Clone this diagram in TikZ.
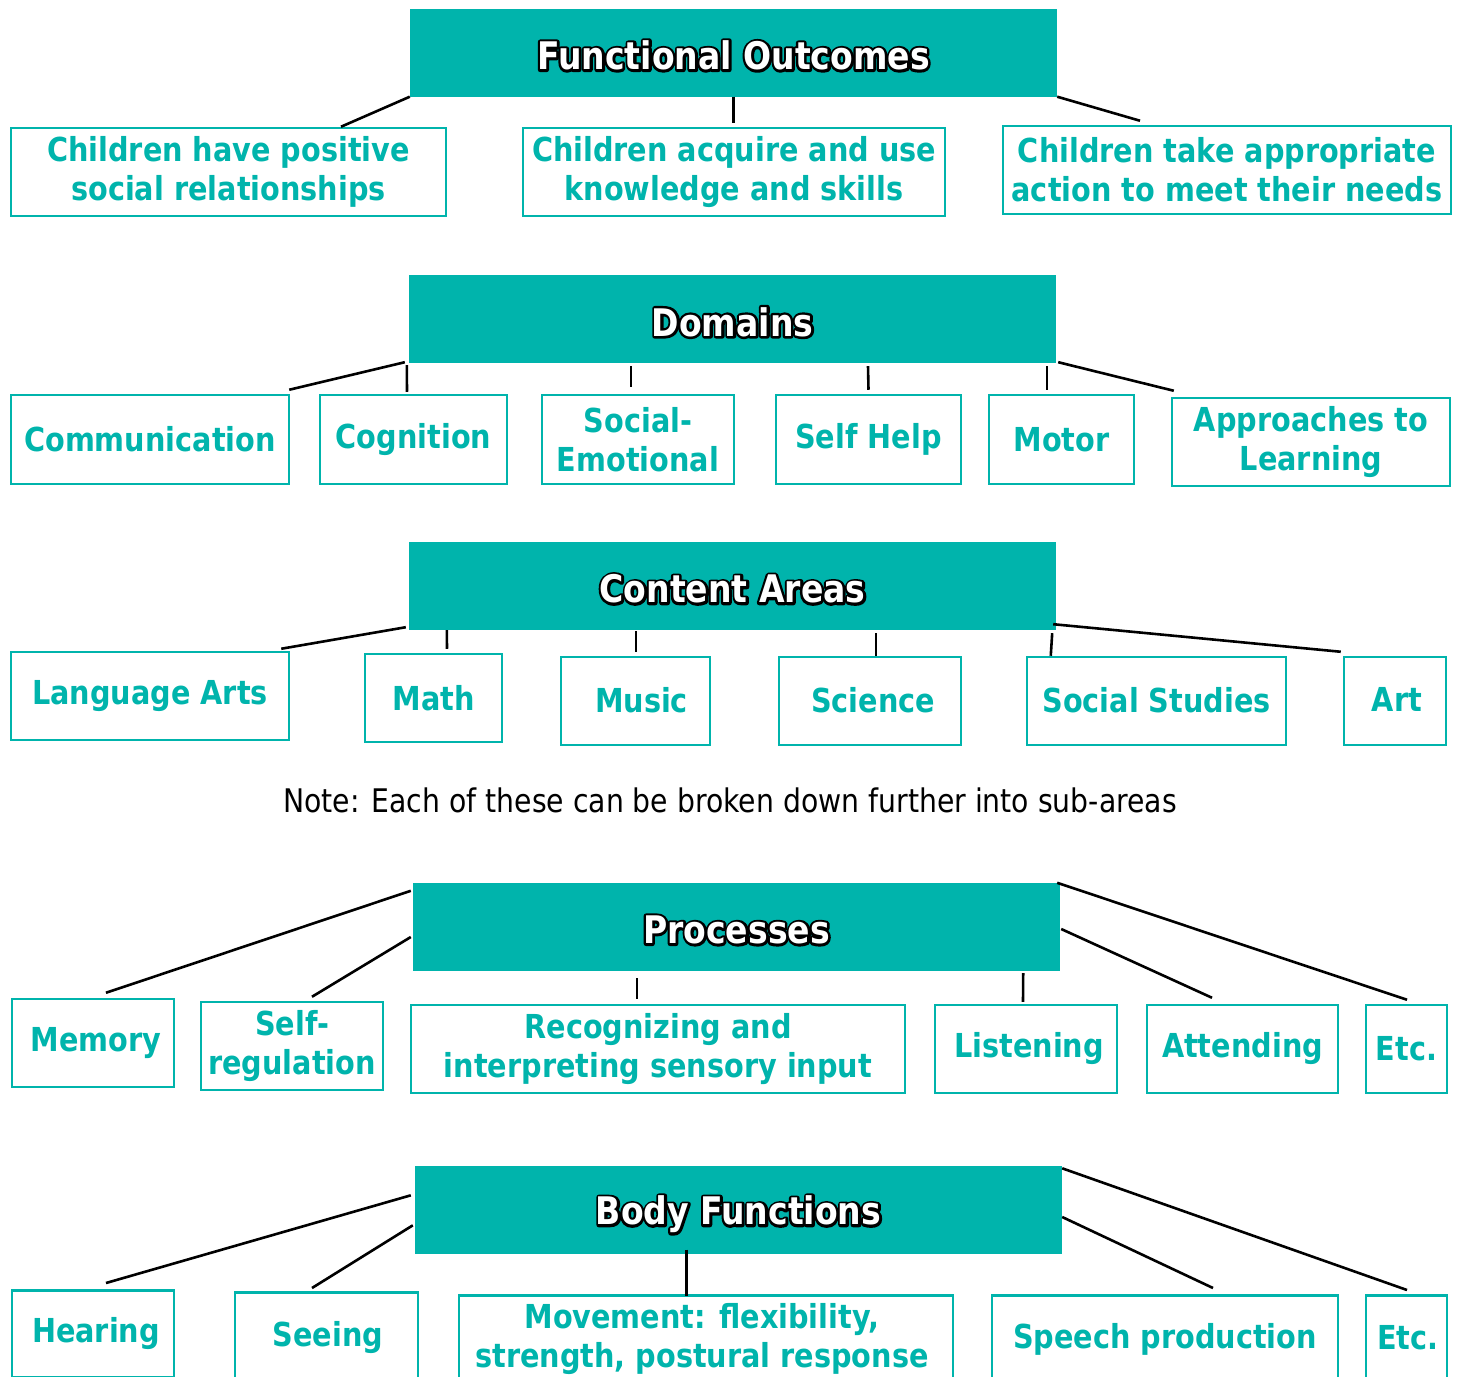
\documentclass[tikz,border=0pt]{standalone}
\usepackage{fontspec}
\setmainfont{DejaVu Sans}[FakeStretch=0.87]
\usetikzlibrary{calc}
\definecolor{tealc}{RGB}{0,180,172}
\newcommand\strokeonly[1]{\special{pdf:literal direct 0 0 0 RG 5 w 1 j 1 Tr}#1\special{pdf:literal direct 0 Tr}}
\newcommand\hdrtext[3]{%
  \node[hfont,text=black] (#1-o) at ($(#1.center)+(0,#3)$) {\strokeonly{#2}};
  \node[hfont,text=white] (#1-t) at ($(#1.center)+(0,#3)$) {#2};}
\begin{document}
\begin{tikzpicture}[x=1pt,y=1pt,
  hdrbox/.style={fill=tealc, minimum width=647, minimum height=88, inner sep=0},
  hfont/.style={font=\fontsize{38}{44}\selectfont\bfseries, inner sep=0},
  cbox/.style={draw=tealc, line width=2.5, text=tealc, font=\fontsize{33}{39}\selectfont\bfseries, align=center, inner sep=0},
  ebox/.style={draw=tealc, line width=2.5, inner sep=0, anchor=north},
  ctext/.style={text=tealc, font=\fontsize{33}{39}\selectfont\bfseries, align=center, inner sep=0},
  conn/.style={line width=2.6, black}]
\useasboundingbox (0,0) rectangle (1458,-1376);

% Row 1
\node[hdrbox] (fo) at (733.5,-52.5) {};
\hdrtext{fo}{Functional Outcomes}{-3}
\node[cbox, minimum width=435, minimum height=88] (fo1) at (228.5,-172) {Children have positive\\social relationships};
\node[cbox, minimum width=422, minimum height=88] (fo2) at (734,-172) {Children acquire and use\\knowledge and skills};
\node[cbox, minimum width=448, minimum height=88] (fo3) at (1227,-170) {Children take appropriate\\action to meet their needs};
\draw[conn] (fo.south west) -- ($(fo1.north)+(112.5,0)$);
\draw[conn] (fo.south) -- ($(fo2.north)+(-0.5,4)$);
\draw[conn] (fo.south east) -- ($(fo3.north)+(-87,4)$);

% Row 2
\node[hdrbox] (dm) at (732.5,-319) {};
\hdrtext{dm}{Domains}{-3}
\node[cbox, minimum width=278, minimum height=89] (d1) at (150,-439.5) {Communication};
\node[cbox, minimum width=187, minimum height=89] (d2) at (413.5,-439.5) {Cognition};
\node[cbox, minimum width=192, minimum height=89] (d3) at (638,-439.5) {Social-\\Emotional};
\node[cbox, minimum width=185, minimum height=89] (d4) at (868.5,-439.5) {Self Help};
\node[cbox, minimum width=145, minimum height=89] (d5) at (1061.5,-439.5) {Motor};
\node[cbox, minimum width=278, minimum height=88] (d6) at (1311,-442) {Approaches to\\Learning};
\draw[conn] ($(dm.south west)+(-4,1)$) -- ($(d1.north east)+(-1,4)$);
\draw[conn] ($(dm.south west)+(-2,-2)$) -- ($(d2.north)+(-6.5,2)$);
\draw[conn] ($(dm.south)+(-101.5,-3)$) -- ($(d3.north)+(-7,7)$);
\draw[conn] ($(dm.south)+(135.5,-3)$) -- ($(d4.north)+(0,4)$);
\draw[conn] ($(dm.south)+(314.5,-3)$) -- ($(d5.north)+(-14.5,4)$);
\draw[conn] ($(dm.south east)+(2,1)$) -- ($(d6.north west)+(3,6)$);

% Row 3
\node[hdrbox] (ca) at (732.5,-586) {};
\hdrtext{ca}{Content Areas}{-3}
\node[cbox, minimum width=278, minimum height=88] (c1) at (150,-696) {Language Arts};
\node[cbox, minimum width=137, minimum height=88] (c2) at (433.5,-698) {Math};
\node[cbox, minimum width=149, minimum height=88] (c3) at (635.5,-701) {\raisebox{3pt}{\hspace*{12pt}Music}};
\node[cbox, minimum width=182, minimum height=88] (c4) at (870,-701) {\raisebox{3pt}{\hspace*{6pt}Science}};
\node[cbox, minimum width=259, minimum height=88] (c5) at (1156.5,-701) {\raisebox{3pt}{Social Studies}};
\node[cbox, minimum width=102, minimum height=88] (c6) at (1395,-701) {\raisebox{3pt}{\hspace*{4pt}Art}};
\draw[conn] ($(ca.south west)+(-3,3)$) -- ($(c1.north east)+(-9,2)$);
\draw[conn] ($(ca.south west)+(38,0)$) -- ($(c2.north)+(13.5,4)$);
\draw[conn] ($(ca.south)+(-96.5,-1)$) -- ($(c3.north)+(0.5,4)$);
\draw[conn] ($(ca.south)+(143.5,-3)$) -- ($(c4.north)+(6,0)$);
\draw[conn] ($(ca.south east)+(-4,-3)$) -- ($(c5.north west)+(25,0)$);
\draw[conn] ($(ca.south east)+(-3,6)$) -- ($(c6.north west)+(-2,4)$);

\node[inner sep=0, font=\fontsize{32.5}{38}\selectfont] (note) at (730,-800) {Note: Each of these can be broken down further into sub-areas};

% Row 4
\node[hdrbox] (pr) at (736.5,-927) {};
\hdrtext{pr}{Processes}{-3}
\node[cbox, minimum width=162, minimum height=88] (p1) at (93,-1043) {\hspace*{6pt}Memory};
\node[cbox, minimum width=182, minimum height=88] (p2) at (292,-1046) {Self-\\regulation};
\node[cbox, minimum width=494, minimum height=88] (p3) at (658,-1049) {Recognizing and\\interpreting sensory input};
\node[cbox, minimum width=182, minimum height=88] (p4) at (1026,-1049) {\hspace*{6pt}Listening};
\node[cbox, minimum width=191, minimum height=88] (p5) at (1242.5,-1049) {Attending};
\node[cbox, minimum width=81, minimum height=88] (p6) at (1406.5,-1049) {Etc.};
\draw[conn] ($(pr.north west)+(-2,-8)$) -- ($(p1.north)+(13,5)$);
\draw[conn] ($(pr.west)+(-2,-10)$) -- ($(p2.north)+(20,4)$);
\draw[conn] ($(pr.south)+(-99.5,-7)$) -- ($(p3.north)+(-21,5)$);
\draw[conn] ($(pr.south east)+(-37,-2)$) -- ($(p4.north)+(-3,2)$);
\draw[conn] ($(pr.east)+(1,-2)$) -- ($(p5.north)+(-30.5,6)$);
\draw[conn] ($(pr.north east)+(-3,0)$) -- ($(p6.north)+(0.5,4)$);

% Row 5
\node[hdrbox] (bf) at (738.5,-1209.5) {};
\hdrtext{bf}{Body Functions}{-5}
\node[ebox, minimum width=162, minimum height=87] (b1) at (93,-1289) {};
\node[ebox, minimum width=183, minimum height=110] (b2) at (326.5,-1291) {};
\node[ebox, minimum width=494, minimum height=110] (b3) at (706,-1294) {};
\node[ebox, minimum width=346, minimum height=110] (b4) at (1165,-1294) {};
\node[ebox, minimum width=81, minimum height=110] (b5) at (1406.5,-1294) {};
\node[ctext] (b1t) at (96,-1334) {Hearing};
\node[ctext] (b2t) at (328,-1338) {Seeing};
\node[ctext] (b3t) at (702,-1339) {Movement: flexibility,\\strength, postural response};
\node[ctext] (b4t) at (1165,-1339) {Speech production};
\node[ctext] (b5t) at (1408,-1338) {Etc.};
\draw[conn] ($(bf.north west)+(-4,-30)$) -- ($(b1.north)+(13,6)$);
\draw[conn] ($(bf.north west)+(-2,-60)$) -- ($(b2.north)+(-14.5,3)$);
\draw[conn, line width=3] ($(bf.south)+(-52.5,4)$) -- ($(b3.north)+(-20,-2)$);
\draw[conn] ($(bf.east)+(0,-7.5)$) -- ($(b4.north)+(48,6)$);
\draw[conn] ($(bf.north east)+(0,-3)$) -- ($(b5.north)+(0.5,4)$);
\end{tikzpicture}
\end{document}
